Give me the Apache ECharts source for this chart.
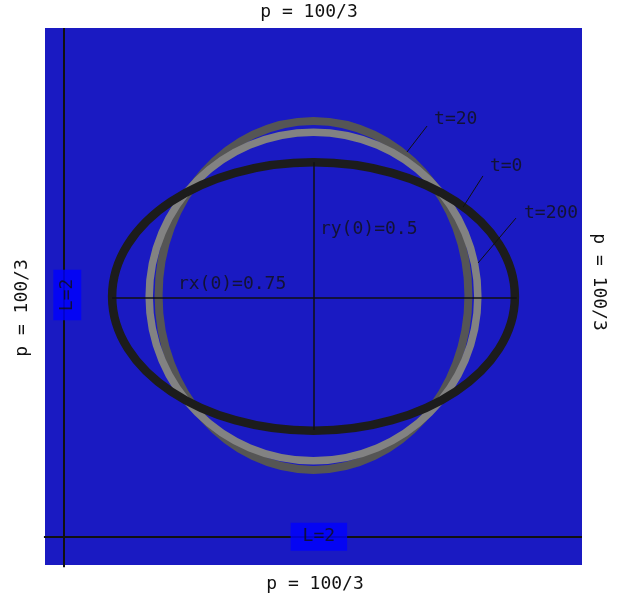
<!DOCTYPE html>
<html>
<head>
<meta charset="utf-8">
<script src="https://cdn.jsdelivr.net/npm/echarts@6/dist/echarts.min.js"></script>
<style>
html,body{margin:0;padding:0;background:#fff;}
#chart{width:628px;height:601px;}
</style>
</head>
<body>
<div id="chart"></div>
<script>
// ---- data ----
const ellipseTimes = ['t=20', 't=200', 't=0'];
const ellipseRx = [0.577, 0.612, 0.75];
const ellipseRy = [0.65, 0.612, 0.5];
const ellipseCx = [0, 0, 0];
const ellipseCy = [0.004, 0, 0];

const annoTexts = ['t=20', 't=0', 't=200', 'ry(0)=0.5', 'rx(0)=0.75'];
const annoX = [0.449, 0.657, 0.784, 0.024, -0.505];
const annoY = [0.661, 0.486, 0.311, 0.251, 0.047];

const leaderX0 = [0.423, 0.631, 0.754];
const leaderY0 = [0.635, 0.449, 0.292];
const leaderX1 = [0.348, 0.557, 0.613];
const leaderY1 = [0.538, 0.333, 0.125];

const radiusLineX0 = [-0.75, 0.002];
const radiusLineY0 = [-0.005, 0.5];
const radiusLineX1 = [0.757, 0.002];
const radiusLineY1 = [-0.005, -0.497];

const dimLineX0 = [-0.930, -1.004];
const dimLineY0 = [1.0, -0.895];
const dimLineX1 = [-0.930, 1.0];
const dimLineY1 = [-1.008, -0.895];

const boxLabelText = ['L=2', 'L=2'];
const boxLabelX = [0.02, -0.917];
const boxLabelY = [-0.895, 0.006];

const titleText = 'p = 100/3';

// ---- styles ----
const ellipseColors = ['#555555', '#828282', '#1c1c1c'];
const ellipseWidths = [8, 7.5, 8.5];
const mono = 'DejaVu Sans Mono';

const chart = echarts.init(document.getElementById('chart'), null, {renderer: 'canvas'});

const ellipseSeries = ellipseTimes.map((t, i) => ({
  type: 'custom',
  name: t,
  coordinateSystem: 'cartesian2d',
  clip: false,
  silent: true,
  z: 2 + i,
  data: [[ellipseCx[i], ellipseCy[i], ellipseRx[i], ellipseRy[i]]],
  renderItem: function (params, api) {
    const c = api.coord([api.value(0), api.value(1)]);
    const s = api.size([api.value(2), api.value(3)]);
    return {
      type: 'ellipse',
      shape: {cx: c[0], cy: c[1], rx: s[0], ry: s[1]},
      style: {fill: null, stroke: ellipseColors[i], lineWidth: ellipseWidths[i]}
    };
  }
}));

function segs(x0, y0, x1, y1) {
  return x0.map((v, i) => ({coords: [[x0[i], y0[i]], [x1[i], y1[i]]]}));
}

const option = {
  animation: false,
  backgroundColor: '#ffffff',
  grid: {
    left: 45, top: 28, width: 537, height: 537,
    show: true, backgroundColor: '#1a1ac2', borderWidth: 0
  },
  xAxis: {type: 'value', min: -1, max: 1, show: false},
  yAxis: {type: 'value', min: -1, max: 1, show: false},
  graphic: [
    {type: 'text', x: 309, y: 12, style: {text: titleText, font: '18px "' + mono + '"', fill: '#111', align: 'center', verticalAlign: 'middle'}},
    {type: 'text', x: 315, y: 584, style: {text: titleText, font: '18px "' + mono + '"', fill: '#111', align: 'center', verticalAlign: 'middle'}},
    {type: 'text', x: 22.5, y: 308, rotation: Math.PI / 2, style: {text: titleText, font: '18px "' + mono + '"', fill: '#111', align: 'center', verticalAlign: 'middle'}},
    {type: 'text', x: 599, y: 282, rotation: -Math.PI / 2, style: {text: titleText, font: '18px "' + mono + '"', fill: '#111', align: 'center', verticalAlign: 'middle'}}
  ],
  series: ellipseSeries.concat([
    {
      type: 'lines', coordinateSystem: 'cartesian2d', clip: false, silent: true, z: 6,
      lineStyle: {color: '#111', width: 2, opacity: 1},
      data: segs(dimLineX0, dimLineY0, dimLineX1, dimLineY1)
    },
    {
      type: 'lines', coordinateSystem: 'cartesian2d', clip: false, silent: true, z: 6,
      lineStyle: {color: '#111', width: 1.5, opacity: 1},
      data: segs(radiusLineX0, radiusLineY0, radiusLineX1, radiusLineY1)
    },
    {
      type: 'lines', coordinateSystem: 'cartesian2d', clip: false, silent: true, z: 6,
      lineStyle: {color: '#111', width: 1, opacity: 1},
      data: segs(leaderX0, leaderY0, leaderX1, leaderY1)
    },
    {
      type: 'scatter', silent: true, z: 7, symbolSize: 0,
      data: annoTexts.map((t, i) => ({value: [annoX[i], annoY[i]], name: t})),
      label: {
        show: true, position: [0, 0], formatter: '{b}',
        align: 'left', verticalAlign: 'middle',
        fontFamily: mono, fontSize: 18, color: '#111'
      }
    },
    {
      type: 'scatter', silent: true, z: 8, symbolSize: 0,
      data: boxLabelText.map((t, i) => ({
        value: [boxLabelX[i], boxLabelY[i]], name: t,
        label: i === 1 ? {rotate: 90, padding: [4, 9, 4, 9]} : {rotate: 0, padding: [4, 12, 4, 12]}
      })),
      label: {
        show: true, position: [0, 0], formatter: '{b}',
        align: 'center', verticalAlign: 'middle',
        fontFamily: mono, fontSize: 18, lineHeight: 20, color: '#111',
        backgroundColor: '#0000ff'
      }
    }
  ])
};
chart.setOption(option);
</script>
</body>
</html>
